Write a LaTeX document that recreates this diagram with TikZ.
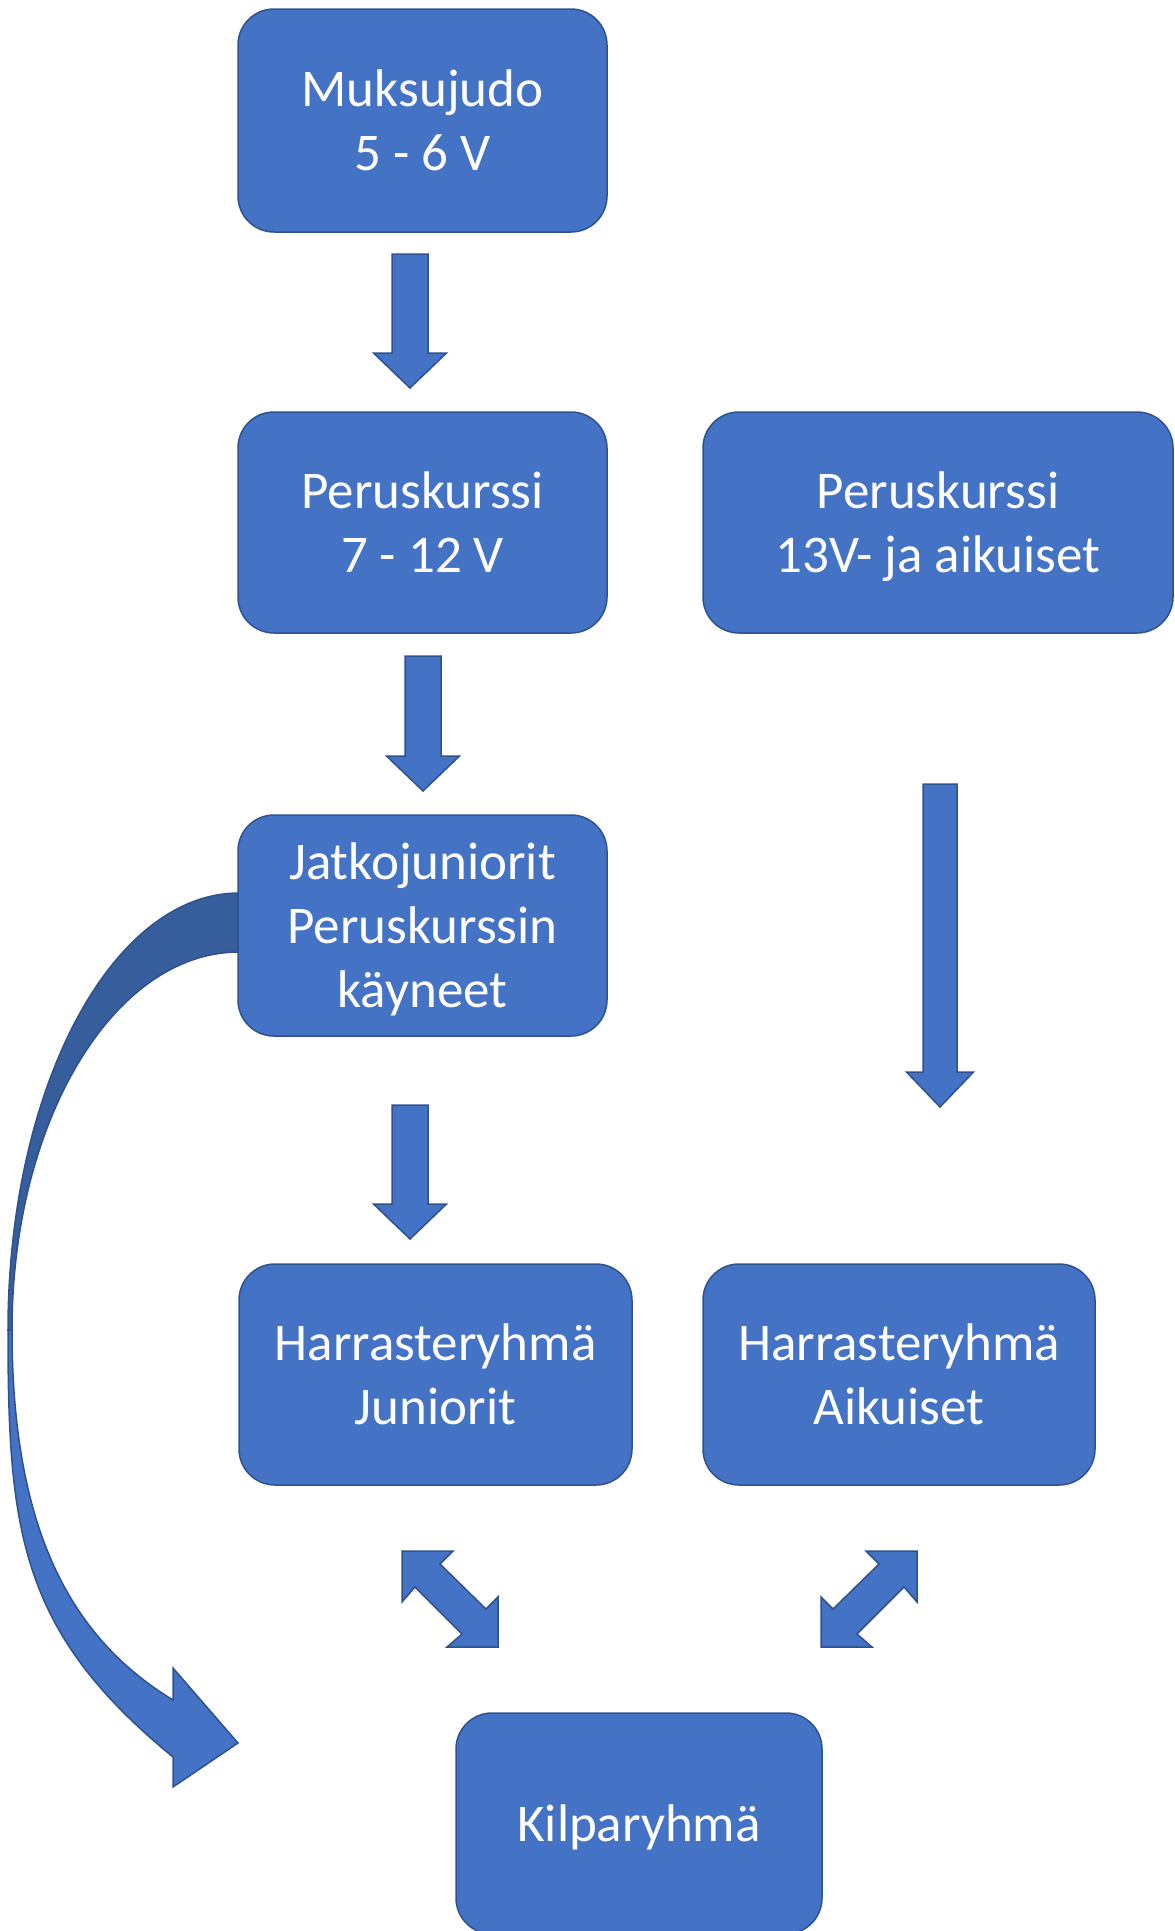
\documentclass[tikz,border=0pt]{standalone}
\usepackage{fontspec}
\setmainfont{Carlito}
\definecolor{boxfill}{HTML}{4472C4}
\definecolor{boxline}{HTML}{2F528F}
\definecolor{backfill}{HTML}{365D9C}
\tikzset{
  stage/.style={draw=boxline, fill=boxfill, line width=1.5pt, rounded corners=36pt,
    text=white, font=\fontsize{53}{64}\selectfont, align=center, inner sep=0pt, text depth=0pt},
  blockarrow/.style={draw=boxline, fill=boxfill, line width=1.5pt, line join=miter},
  backarrow/.style={draw=boxline, fill=backfill, line width=1.5pt, line join=miter},
}
% #1 x centre, #2 top, #3 tip, #4 shaft half width, #5 head half width
\newcommand\blockdown[5]{%
  \draw[blockarrow] ({#1-#4},#2) -- ({#1+#4},#2) -- ({#1+#4},{#3-35}) -- ({#1+#5},{#3-35})
    -- (#1,#3) -- ({#1-#5},{#3-35}) -- ({#1-#4},{#3-35}) -- cycle;}
\begin{document}
\begin{tikzpicture}[x=1pt,y=-1pt]
\useasboundingbox (0,0) rectangle (1175,1931);

% curved arrow (back part drawn under the box)
\draw[backarrow] (239,893) arc[start angle=270, end angle=180, x radius=231, y radius=437]
  -- (12,1330) arc[start angle=180, end angle=270, x radius=227, y radius=378] -- cycle;
\draw[blockarrow] (8,1330) .. controls (8,1530) and (19,1631) .. (173,1757)
  -- (173,1787) -- (238,1743) -- (173,1668) -- (173,1700)
  .. controls (71,1638) and (12,1530) .. (12,1330) -- cycle;

% boxes
\node[stage, minimum width=369pt, minimum height=223pt] (muks) at (422.5,120.5) {Muksujudo\\5 - 6 V};
\node[stage, minimum width=369pt, minimum height=221pt] (per1) at (422.5,522.5) {Peruskurssi\\7 - 12 V};
\node[stage, minimum width=470pt, minimum height=221pt] (per2) at (938,522.5) {Peruskurssi\\13V- ja aikuiset};
\node[stage, minimum width=369pt, minimum height=221pt] (jatko) at (422.5,925.5) {Jatkojuniorit\\Peruskurssin\\käyneet};
\node[stage, minimum width=393pt, minimum height=221pt] (harj) at (435.5,1374.5) {Harrasteryhmä\\Juniorit};
\node[stage, minimum width=392pt, minimum height=221pt] (hara) at (899,1374.5) {Harrasteryhmä\\Aikuiset};
\node[stage, minimum width=366pt, minimum height=221pt] (kilp) at (639,1823.5) {Kilparyhmä};

% down block arrows
\blockdown{410}{254}{388}{18}{36.5}
\blockdown{423}{656}{791}{18}{36.5}
\blockdown{410}{1105}{1239}{18}{36.5}
\blockdown{940}{784}{1107}{17}{33.5}

% double-headed diagonal arrows
\draw[blockarrow] (402,1551) -- (453,1551) -- (440,1564) -- (486,1609) -- (498,1597)
  -- (498,1647) -- (447,1647) -- (462,1634) -- (415,1587) -- (402,1602) -- cycle;
\draw[blockarrow] (917,1551) -- (866,1551) -- (879,1564) -- (833,1609) -- (821,1597)
  -- (821,1647) -- (872,1647) -- (857,1634) -- (904,1587) -- (917,1602) -- cycle;
\end{tikzpicture}
\end{document}
